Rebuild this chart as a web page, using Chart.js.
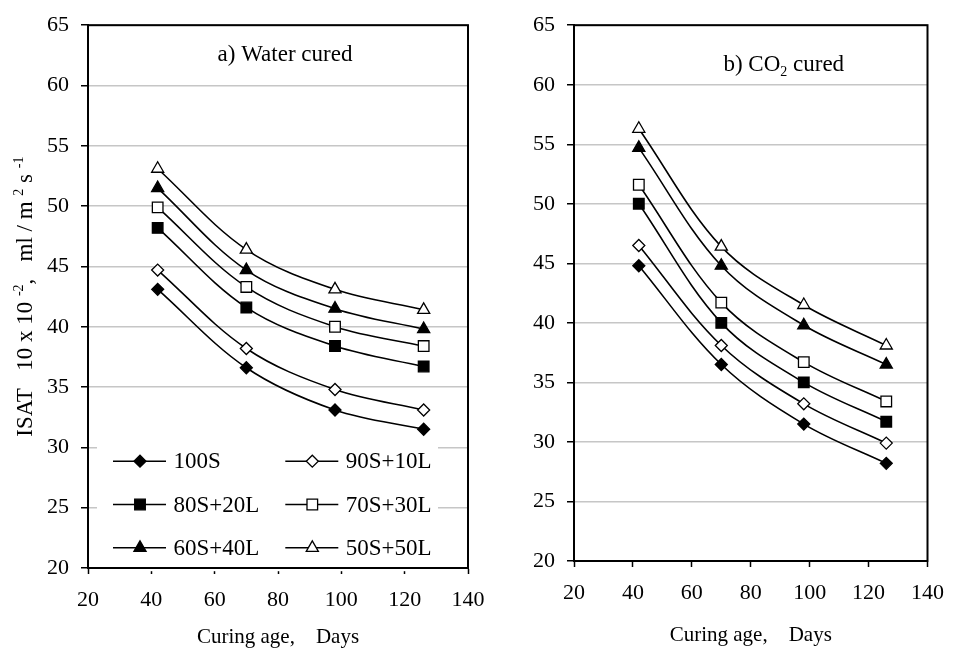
<!DOCTYPE html>
<html>
<head>
<meta charset="utf-8">
<title>ISAT vs curing age</title>
<script src="https://cdn.jsdelivr.net/npm/chart.js@4.4.0/dist/chart.umd.min.js"></script>
<style>
  body { margin: 0; background: #fff; }
  #wrap { position: relative; width: 957px; height: 653px; }
  canvas { position: absolute; top: 0; }
  #waterChart { left: 0; }
  #co2Chart { left: 480px; }
</style>
</head>
<body>
<div id="wrap">
  <canvas id="waterChart" width="500" height="653"></canvas>
  <canvas id="co2Chart" width="477" height="653"></canvas>
</div>
<script>
// curing age in days (x values)
const days = [42, 70, 98, 126];
const mixes = ['100S', '90S+10L', '80S+20L', '70S+30L', '60S+40L', '50S+50L'];

// a) water cured
const water100S = [43.1, 36.6, 33.1, 31.5];
const water90S = [44.7, 38.2, 34.8, 33.1];
const water80S = [48.2, 41.6, 38.4, 36.7];
const water70S = [49.9, 43.3, 40.0, 38.4];
const water60S = [51.5, 44.7, 41.5, 39.8];
const water50S = [53.1, 46.4, 43.1, 41.4];

// b) CO2 cured
const co2_100S = [44.8, 36.5, 31.5, 28.2];
const co2_90S = [46.5, 38.1, 33.2, 29.9];
const co2_80S = [50.0, 40.0, 35.0, 31.7];
const co2_70S = [51.6, 41.7, 36.7, 33.4];
const co2_60S = [54.7, 44.8, 39.8, 36.5];
const co2_50S = [56.3, 46.4, 41.5, 38.1];

const xRange = [20, 140];
const xStep = 20;
const yRange = [20, 65];
const yStep = 5;

const FAMILY = '"Liberation Serif", "Times New Roman", serif';
Chart.defaults.font.family = FAMILY;
Chart.defaults.color = '#000';

// marker per mix: diamond, square, triangle - filled then open
const markers = [
  { style: 'rectRot', filled: true, r: 6 },
  { style: 'rectRot', filled: false, r: 6 },
  { style: 'rect', filled: true, r: 7.5 },
  { style: 'rect', filled: false, r: 7.5 },
  { style: 'triangle', filled: true, r: 7 },
  { style: 'triangle', filled: false, r: 7 },
];

// text with super/subscript parts: [text, 0 | 1 (sup) | -1 (sub)]
function drawRich(ctx, parts, cx, baseY, size) {
  const small = Math.round(size * 0.62);
  let total = 0;
  parts.forEach(p => {
    ctx.font = (p[1] ? small : size) + 'px ' + FAMILY;
    total += ctx.measureText(p[0]).width;
  });
  let x = cx - total / 2;
  ctx.textAlign = 'left';
  ctx.textBaseline = 'alphabetic';
  parts.forEach(p => {
    ctx.font = (p[1] ? small : size) + 'px ' + FAMILY;
    const dy = p[1] === 1 ? -size * 0.4 : (p[1] === -1 ? size * 0.2 : 0);
    ctx.fillText(p[0], x, baseY + dy);
    x += ctx.measureText(p[0]).width;
  });
}

function drawLegend(chart, ctx, area) {
  ctx.fillStyle = '#fff';
  ctx.fillRect(area.left + 9, area.top + 416, 341, 130);
  chart.data.datasets.forEach((ds, i) => {
    const col = i % 2, row = Math.floor(i / 2);
    const x0 = area.left + 25 + col * 172.3;
    const y = area.top + 436 + row * 43.3;
    ctx.strokeStyle = '#000';
    ctx.lineWidth = 1.6;
    ctx.beginPath();
    ctx.moveTo(x0, y);
    ctx.lineTo(x0 + 53, y);
    ctx.stroke();
    ctx.fillStyle = ds.pointBackgroundColor;
    ctx.lineWidth = ds.pointBorderWidth;
    Chart.helpers.drawPoint(ctx, {
      pointStyle: ds.pointStyle, radius: ds.pointRadius, rotation: 0, borderWidth: ds.pointBorderWidth
    }, x0 + 27, y);
    ctx.fillStyle = '#000';
    ctx.font = '23px ' + FAMILY;
    ctx.textAlign = 'left';
    ctx.textBaseline = 'middle';
    ctx.fillText(ds.label, x0 + 60.5, y + 1);
  });
}

const panelDecor = {
  id: 'panelDecor',
  afterDraw(chart, args, opts) {
    const ctx = chart.ctx, area = chart.chartArea;
    ctx.save();
    if (opts.legend) drawLegend(chart, ctx, area);
    ctx.strokeStyle = '#000';
    ctx.lineWidth = 2;
    ctx.strokeRect(area.left, area.top, area.right - area.left, area.bottom - area.top);
    ctx.fillStyle = '#000';
    drawRich(ctx, opts.title, (area.left + area.right) / 2 + opts.titleShift, area.top + opts.titleBaseline, 23);
    if (opts.yTitle) {
      ctx.translate(32, (area.top + area.bottom) / 2);
      ctx.rotate(-Math.PI / 2);
      drawRich(ctx, opts.yTitle, 0, 0, 23);
    }
    ctx.restore();
  }
};

function buildDatasets(seriesList) {
  return seriesList.map((vals, i) => ({
    label: mixes[i],
    data: days.map((d, j) => ({ x: d, y: vals[j] })),
    borderColor: '#000',
    borderWidth: 1.6,
    fill: false,
    tension: 0.35,
    pointStyle: markers[i].style,
    pointRadius: markers[i].r,
    pointBackgroundColor: markers[i].filled ? '#000' : '#fff',
    pointBorderColor: '#000',
    pointBorderWidth: 1.3,
  }));
}

function makeChart(id, seriesList, geo, decor) {
  return new Chart(document.getElementById(id), {
    type: 'line',
    data: { datasets: buildDatasets(seriesList) },
    options: {
      responsive: false,
      animation: false,
      layout: { padding: { left: 0, right: geo.padRight, top: geo.padTop, bottom: 0 } },
      plugins: {
        legend: { display: false },
        tooltip: { enabled: false },
        panelDecor: decor,
      },
      scales: {
        x: {
          type: 'linear',
          min: xRange[0],
          max: xRange[1],
          ticks: { stepSize: xStep, padding: 13, color: '#000', font: { size: 22 } },
          grid: { drawOnChartArea: false, tickLength: 6, tickColor: '#000', tickWidth: 1.5 },
          border: { color: '#000', width: 2 },
          title: {
            display: true, text: 'Curing age,    Days', color: '#000',
            font: { size: 21 }, padding: { top: 0, bottom: geo.titlePad }
          },
          afterFit(scale) { scale.height = geo.xHeight; }
        },
        y: {
          min: yRange[0],
          max: yRange[1],
          ticks: { stepSize: yStep, padding: 12, color: '#000', font: { size: 22 } },
          grid: { color: '#c6c6c6', lineWidth: 1.5, tickLength: 7, tickColor: '#000', tickWidth: 1.5 },
          border: { color: '#000', width: 2 },
          afterFit(scale) { scale.width = geo.yWidth; }
        }
      }
    },
    plugins: [panelDecor]
  });
}

makeChart('waterChart',
  [water100S, water90S, water80S, water70S, water60S, water50S],
  { padRight: 32, padTop: 19, yWidth: 88, xHeight: 85, titlePad: 3 },
  {
    legend: true,
    title: [['a) Water cured', 0]],
    titleShift: 7,
    titleBaseline: 36,
    yTitle: [['ISAT   10 x 10 ', 0], ['-2', 1], [',   ml / m ', 0], ['2', 1], [' s ', 0], ['-1', 1]]
  });

makeChart('co2Chart',
  [co2_100S, co2_90S, co2_80S, co2_70S, co2_60S, co2_50S],
  { padRight: 21, padTop: 17, yWidth: 94, xHeight: 92, titlePad: 5 },
  {
    legend: false,
    title: [['b) CO', 0], ['2', -1], [' cured', 0]],
    titleShift: 33,
    titleBaseline: 46,
    yTitle: null
  });
</script>
</body>
</html>
